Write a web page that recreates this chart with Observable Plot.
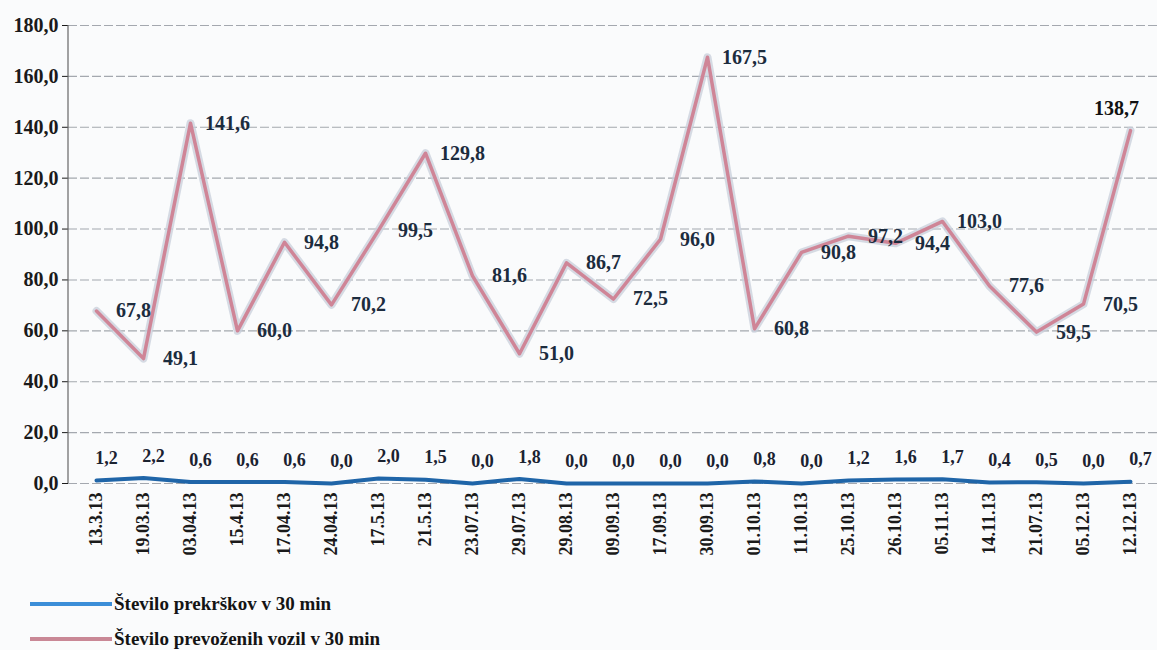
<!DOCTYPE html>
<html><head><meta charset="utf-8">
<script src="https://cdn.jsdelivr.net/npm/d3@7"></script>
<script src="https://cdn.jsdelivr.net/npm/@observablehq/plot@0.6"></script>
<style>
body{margin:0;background:#fafbfc;font-family:'Liberation Serif','Times New Roman',serif;}
#chart{position:relative;width:1157px;height:650px;overflow:hidden;}
#chart svg, #chart svg text{font-family:'Liberation Serif','Times New Roman',serif !important;}
.legend{position:absolute;left:30px;font-weight:bold;font-size:19px;color:#141414;display:flex;align-items:center;white-space:nowrap;}
.legend .sw{width:82px;height:4px;margin-right:2px;}
</style></head><body>
<div id="chart"></div>
<script>
const dates = ["13.3.13","19.03.13","03.04.13","15.4.13","17.04.13","24.04.13","17.5.13","21.5.13","23.07.13","29.07.13","29.08.13","09.09.13","17.09.13","30.09.13","01.10.13","11.10.13","25.10.13","26.10.13","05.11.13","14.11.13","21.07.13","05.12.13","12.12.13"];
const prekrski = [1.2,2.2,0.6,0.6,0.6,0.0,2.0,1.5,0.0,1.8,0.0,0.0,0.0,0.0,0.8,0.0,1.2,1.6,1.7,0.4,0.5,0.0,0.7];
const vozila = [67.8,49.1,141.6,60.0,94.8,70.2,99.5,129.8,81.6,51.0,86.7,72.5,96.0,167.5,60.8,90.8,97.2,94.4,103.0,77.6,59.5,70.5,138.7];
const yTicks = [0,20,40,60,80,100,120,140,160,180];
const seriesNames = ["Število prekrškov v 30 min","Število prevoženih vozil v 30 min"];

const fmt = v => d3.format(".1f")(v).replace(".", ",");
const rows = dates.map((d,i)=>({date:d, i, prek: prekrski[i], voz: vozila[i]}));
const last = dates.length - 1;

const W=1157,H=585, mL=68, mR=0, mT=25, mB=102;
const chart = Plot.plot({
  width:W,height:H,marginLeft:mL,marginRight:mR,marginTop:mT,marginBottom:mB,
  style:{background:"transparent", overflow:"visible"},
  x:{type:"point",domain:dates,padding:0.5},
  y:{domain:[0,180]},
  marks:[
    Plot.gridY({ticks:yTicks,stroke:"#6a717c",strokeOpacity:0.6,strokeDasharray:"9,3",strokeWidth:1.1}),
    Plot.axisY({ticks:yTicks,tickFormat:fmt,tickSize:6,tickPadding:4,fontSize:20,fontWeight:"bold",label:null,color:"#1a1a1a"}),
    Plot.axisX({tickRotate:-90,tickSize:0,tickPadding:9,fontSize:18,fontWeight:"bold",label:null,color:"#1a1a1a"}),
    Plot.lineY(rows,{x:"date",y:"voz",stroke:"#c8cfdb",strokeWidth:8,strokeOpacity:0.75}),
    Plot.lineY(rows,{x:"date",y:"voz",stroke:"#cf8597",strokeWidth:3.5}),
    Plot.lineY(rows,{x:"date",y:"prek",stroke:"#1f65a8",strokeWidth:4}),
    Plot.text(rows.filter(d=>d.i<last),{x:"date",y:"voz",text:d=>fmt(d.voz),dx:37,fontSize:20,fontWeight:"bold",fill:"#1c2c3e"}),
    Plot.text(rows.filter(d=>d.i===last),{x:"date",y:"voz",text:d=>fmt(d.voz),dx:-14,dy:-22,fontSize:20,fontWeight:"bold",fill:"#111"}),
    Plot.text(rows,{x:"date",y:"prek",text:d=>fmt(d.prek),dx:10,dy:-22,fontSize:18,fontWeight:"bold",fill:"#1a2230"})
  ]
});
const y = chart.scale("y");
d3.select(chart).append("line")
  .attr("x1",mL).attr("x2",mL)
  .attr("y1",y.apply(180)).attr("y2",y.apply(0))
  .attr("stroke","#666").attr("stroke-width",1.2);
const host = document.getElementById("chart");
host.appendChild(chart);
const swCols = ["#3b8ed8","#c98896"];
seriesNames.forEach((n,k)=>{
  const div = document.createElement("div");
  div.className = "legend";
  div.style.top = (593 + k*35) + "px";
  const sw = document.createElement("span");
  sw.className = "sw"; sw.style.background = swCols[k];
  const t = document.createElement("span"); t.textContent = n;
  div.appendChild(sw); div.appendChild(t);
  host.appendChild(div);
});
</script>
</body></html>
